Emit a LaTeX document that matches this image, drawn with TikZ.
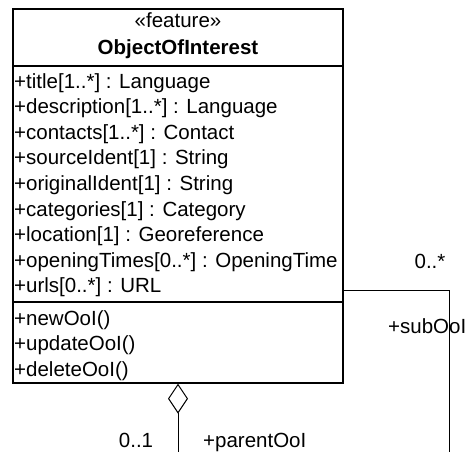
\documentclass[tikz,border=0pt]{standalone}
\usepackage{fontspec}
\setmainfont{Liberation Sans}
\usetikzlibrary{arrows.meta}
\begin{document}
\begin{tikzpicture}[x=1pt,y=-1pt,
  every node/.style={font=\fontsize{20.5}{24}\selectfont, inner sep=0pt},
  classbox/.style={draw, line width=1.3pt, minimum width=330pt, minimum height=374pt},
  member/.style={anchor=base west},
  lbl/.style={anchor=base},
  sep/.style={line width=1.3pt},
  conn/.style={line width=1pt}]
\useasboundingbox (0,0) rectangle (465,452);
\node[classbox] (ooi) at (178,196) {};
\node[lbl] (stereo) at (178,28) {«feature»};
\node[lbl, font=\fontsize{20.5}{24}\selectfont\bfseries] (cname) at (178,54) {ObjectOfInterest};
\coordinate (s1) at (0,66);
\coordinate (s2) at (0,302);
\draw[sep] (ooi.west |- s1) -- (ooi.east |- s1);
\draw[sep] (ooi.west |- s2) -- (ooi.east |- s2);
\node[member] (a1) at (14,88) {+title[1..*] : Language};
\node[member] (a2) at (14,113.6) {+description[1..*] : Language};
\node[member] (a3) at (14,139.2) {+contacts[1..*] : Contact};
\node[member] (a4) at (14,164.8) {+sourceIdent[1] : String};
\node[member] (a5) at (14,190.4) {+originalIdent[1] : String};
\node[member] (a6) at (14,216) {+categories[1] : Category};
\node[member] (a7) at (14,241.6) {+location[1] : Georeference};
\node[member] (a8) at (14,267.2) {+openingTimes[0..*] : OpeningTime};
\node[member] (a9) at (14,292.8) {+urls[0..*] : URL};
\node[member] (o1) at (14,325) {+newOoI()};
\node[member] (o2) at (14,350.5) {+updateOoI()};
\node[member] (o3) at (14,376) {+deleteOoI()};
\coordinate (rc) at (449,290);
\coordinate (rend) at (449,452);
\draw[conn] (ooi.east |- rc) -- (rc) -- (rend);
\coordinate (pend) at (178,452);
\draw[conn, {Diamond[open, width=20pt, length=30pt, line width=1pt]}-] (ooi.south) -- (pend);
\node[lbl] (m1) at (430,268) {0..*};
\node[member] (r1) at (388,333) {+subOoI};
\node[lbl] (m2) at (136,447) {0..1};
\node[member] (r2) at (203,447) {+parentOoI};
\end{tikzpicture}
\end{document}
